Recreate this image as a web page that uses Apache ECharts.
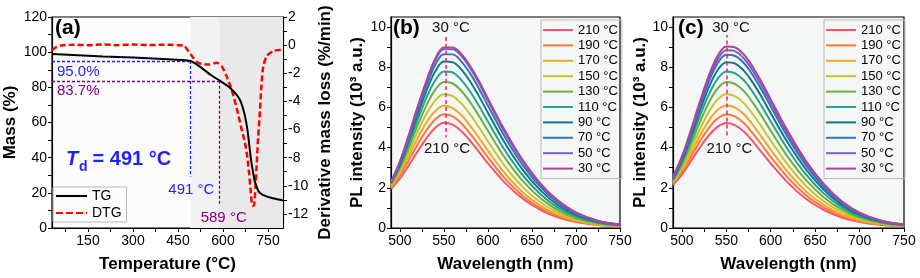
<!DOCTYPE html>
<html><head><meta charset="utf-8">
<script src="https://cdn.jsdelivr.net/npm/echarts@6/dist/echarts.min.js"></script>
<style>html,body{margin:0;padding:0;background:#fff}#c{width:920px;height:278px}</style>
</head><body><div id="c"></div>
<script>
// ---------- Panel (a): TG / DTG ----------
const tgTemp = [30,100,200,300,400,491,523,557,589,623,645,657,670,679,684,690,695,701,706,712,718,729,745,760,780,800];
const tgMass = [99.0,98.4,97.6,96.9,96.1,95.0,91.8,87.3,83.8,79.8,75.8,72.7,66.0,58.5,52.5,43.5,37.0,31.0,26.5,23.5,21.0,19.2,18.0,17.2,16.4,15.6];
const dtgTemp = [30,45,60,100,150,200,250,300,350,400,450,470,484,501,518,551,579,596,612,629,646,662,673,680,687,692,698,703,708,712,717,723,728,734,746,768,790,800];
const dtgRate = [-0.36,-0.12,-0.03,0.03,0.0,0.05,0.0,0.04,0.0,0.03,0.0,-0.05,-0.41,-0.9,-1.26,-1.38,-1.26,-1.5,-2.22,-3.19,-4.52,-5.97,-6.93,-7.8,-9.1,-10.3,-11.4,-11.4,-10.1,-8.6,-6.6,-4.7,-2.9,-1.55,-0.78,-0.41,-0.34,-0.3];
const onsetTemp = [491, 589];
const onsetMass = [95.0, 83.7];
const onsetDropTo = [29.3, 13.5];
const onsetTempLabels = ['491 °C', '589 °C'];
const onsetMassLabels = ['95.0%', '83.7%'];
const tempLabelTicks = [150, 300, 450, 600, 750];
const tempMinorTicks = [75,150,225,300,375,450,525,600,675,750];
const dtgLabelTicks = [-12,-10,-8,-6,-4,-2,0,2];
const dtgTicks = [-12,-11,-10,-9,-8,-7,-6,-5,-4,-3,-2,-1,0,1,2];
const massTicks = [0,10,20,30,40,50,60,70,80,90,100,110,120];
const massLabels = [0,20,40,60,80,100,120];

// ---------- Panels (b), (c): PL spectra ----------
const wavelength = [490,500,510,520,530,540,550,560,570,580,590,600,620,640,660,680,700,725,750];
const tempNames = ['210 °C','190 °C','170 °C','150 °C','130 °C','110 °C','90 °C','70 °C','50 °C','30 °C'];
const b210 = [1.94,2.45,3.10,3.80,4.45,4.98,5.24,5.14,4.82,4.33,3.78,3.22,2.22,1.44,0.89,0.52,0.30,0.15,0.08];
const b190 = [2.00,2.60,3.35,4.14,4.85,5.40,5.66,5.55,5.20,4.68,4.11,3.52,2.43,1.58,0.98,0.58,0.33,0.16,0.09];
const b170 = [2.07,2.74,3.57,4.46,5.24,5.81,6.08,5.97,5.61,5.08,4.48,3.85,2.68,1.76,1.10,0.65,0.37,0.18,0.10];
const b150 = [2.12,2.86,3.78,4.77,5.66,6.33,6.65,6.56,6.19,5.64,5.00,4.32,3.04,2.02,1.27,0.76,0.43,0.21,0.11];
const b130 = [2.18,2.97,3.99,5.08,6.08,6.86,7.26,7.19,6.82,6.25,5.57,4.84,3.45,2.32,1.47,0.88,0.50,0.24,0.12];
const b110 = [2.22,3.06,4.17,5.35,6.46,7.33,7.79,7.74,7.36,6.78,6.07,5.30,3.82,2.60,1.67,1.00,0.57,0.27,0.14];
const b90  = [2.25,3.15,4.33,5.60,6.80,7.77,8.28,8.25,7.88,7.28,6.55,5.74,4.18,2.87,1.86,1.12,0.64,0.30,0.15];
const b70  = [2.27,3.22,4.45,5.80,7.05,8.10,8.65,8.64,8.28,7.68,6.93,6.10,4.48,3.10,2.02,1.23,0.70,0.33,0.16];
const b50  = [2.28,3.26,4.55,5.93,7.22,8.32,8.90,8.90,8.56,7.95,7.20,6.35,4.70,3.27,2.14,1.31,0.75,0.35,0.17];
const b30  = [2.30,3.30,4.60,6.00,7.30,8.40,8.98,8.98,8.65,8.05,7.30,6.45,4.80,3.35,2.20,1.35,0.78,0.36,0.18];
const c210 = [2.15,2.66,3.31,3.99,4.59,5.03,5.22,5.11,4.79,4.30,3.76,3.21,2.22,1.44,0.89,0.52,0.30,0.15,0.08];
const c190 = [2.20,2.79,3.52,4.29,4.96,5.45,5.65,5.54,5.21,4.70,4.13,3.54,2.47,1.62,1.01,0.59,0.34,0.17,0.09];
const c170 = [2.25,2.90,3.72,4.57,5.32,5.87,6.10,5.99,5.65,5.12,4.52,3.89,2.74,1.81,1.14,0.67,0.38,0.19,0.10];
const c150 = [2.30,3.02,3.93,4.89,5.75,6.38,6.65,6.55,6.20,5.65,5.02,4.35,3.10,2.08,1.32,0.79,0.45,0.22,0.11];
const c130 = [2.35,3.15,4.16,5.23,6.21,6.93,7.26,7.16,6.80,6.23,5.56,4.84,3.49,2.37,1.52,0.91,0.52,0.25,0.13];
const c110 = [2.40,3.26,4.36,5.53,6.62,7.41,7.79,7.70,7.34,6.75,6.05,5.30,3.86,2.65,1.71,1.03,0.59,0.28,0.14];
const c90  = [2.45,3.36,4.54,5.80,6.97,7.84,8.25,8.18,7.82,7.22,6.50,5.71,4.19,2.90,1.89,1.14,0.65,0.31,0.15];
const c70  = [2.49,3.45,4.68,6.01,7.25,8.18,8.62,8.56,8.20,7.59,6.85,6.04,4.46,3.10,2.03,1.24,0.71,0.33,0.16];
const c50  = [2.52,3.50,4.77,6.14,7.41,8.38,8.84,8.79,8.43,7.81,7.06,6.23,4.62,3.22,2.11,1.29,0.74,0.35,0.17];
const c30  = [2.55,3.55,4.85,6.25,7.55,8.55,9.03,8.98,8.62,8.00,7.24,6.40,4.76,3.32,2.18,1.33,0.77,0.36,0.18];
const wlLabelTicks = [500,550,600,650,700,750];
const wlTicks = [500,525,550,575,600,625,650,675,700,725,750];
const plLabelTicks = [0,2,4,6,8,10];
const plTicks = [0,1,2,3,4,5,6,7,8,9,10];
// arrow: [wavelength, start value, end value]; labels: [wavelength, value]
const arrowB = [552, 9.5, 4.5];
const arrowC = [550, 4.6, 9.6];
const labelTopB = [558, 9.95], labelBotB = [553.6, 3.93];
const labelTopC = [555.4, 9.95], labelBotC = [553.5, 3.93];

// ---------- styles ----------
const FONT = "'Liberation Sans', Arial, Helvetica, sans-serif";
const specColors = ['#f2566f','#f47b3b','#f6a623','#c7c52c','#6cb13f','#28a195','#0d7a8b','#3a72b8','#7a5cc3','#a8479f'];
const bCurves = [b210,b190,b170,b150,b130,b110,b90,b70,b50,b30];
const cCurves = [c210,c190,c170,c150,c130,c110,c90,c70,c50,c30];
const ICON_LINE = 'path://M0,0H30V2H0Z';
const ICON_DASH = 'path://M0,0H7V2H0Z M10,0H17V2H10Z M20,0H27V2H20Z M30,0H31V2H30Z';

const chart = echarts.init(document.getElementById('c'), null, {renderer:'canvas'});

const axisLineStyle = {show:true, lineStyle:{color:'#000', width:1.2}};
const labelStyle = {fontFamily:FONT, fontSize:14, color:'#000'};
const nameStyle = {fontFamily:FONT, fontSize:17, fontWeight:'bold', color:'#000'};

function xAx(gi, min, max, labels, ticks, name, gap){
  return {type:'value', gridIndex:gi, min:min, max:max, name:name, nameLocation:'middle', nameGap:gap,
    nameTextStyle:nameStyle, axisLine:axisLineStyle,
    axisTick:{show:true, inside:false, length:4, customValues:ticks, lineStyle:{color:'#000', width:1}},
    axisLabel:Object.assign({customValues:labels, margin:6}, labelStyle),
    splitLine:{show:false}};
}
function yAx(gi, min, max, labels, ticks, name, gap, pos){
  return {type:'value', gridIndex:gi, position:pos||'left', min:min, max:max, name:name, nameLocation:'middle', nameGap:gap,
    nameTextStyle:nameStyle, axisLine:axisLineStyle,
    axisTick:{show:true, inside:false, length:4, customValues:ticks, lineStyle:{color:'#000', width:1}},
    axisLabel:Object.assign({customValues:labels, margin:5}, labelStyle),
    splitLine:{show:false}};
}

const series = [];
series.push({
  name:'TG', type:'line', xAxisIndex:0, yAxisIndex:0, symbol:'none', smooth:0.2,
  data: tgTemp.map((t,i)=>[t, tgMass[i]]),
  lineStyle:{color:'#000', width:2}, itemStyle:{color:'#000'}, z:5,
  markArea:{silent:true, data:[
    [{xAxis:onsetTemp[0], itemStyle:{color:'#f2f2f2'}},{xAxis:800}],
    [{xAxis:onsetTemp[1], itemStyle:{color:'#e9e9e9'}},{xAxis:800}]
  ].slice(0,0).concat([
    [{xAxis:onsetTemp[0], itemStyle:{color:'#f2f2f2'}},{xAxis:onsetTemp[1]}],
    [{xAxis:onsetTemp[1], itemStyle:{color:'#e9e9e9'}},{xAxis:800}]
  ])},
  markLine:{silent:true, symbol:['none','none'], label:{show:false}, animation:false,
    data: onsetTemp.flatMap((t,i)=>{
      const ls = {color: i===0 ? '#1f1fff' : '#800080', type:[3,2], width:1.3};
      return [
        [{coord:[30, onsetMass[i]], lineStyle:ls},{coord:[t, onsetMass[i]], lineStyle:ls}],
        [{coord:[t, onsetMass[i]], lineStyle:ls},{coord:[t, onsetDropTo[i]], lineStyle:ls}]
      ];
    })
  },
  markPoint:{silent:true, symbol:'rect', symbolSize:0, animation:false,
    data: onsetTemp.flatMap((t,i)=>{
      const col = i===0 ? '#1f1fff' : '#800080';
      return [
        {coord:[30, onsetMass[i]], label:{show:true, formatter:onsetMassLabels[i], position:'right', distance:5, offset:[0,10.5], color:col, fontFamily:FONT, fontSize:15}},
        {coord:[t, onsetDropTo[i]], label:{show:true, formatter:onsetTempLabels[i], position:'bottom', distance:6, offset:[i===0?1:4,0], color:col, fontFamily:FONT, fontSize:15}}
      ];
    })
  }
});
series.push({
  name:'DTG', type:'line', xAxisIndex:0, yAxisIndex:1, symbol:'none', smooth:0.25,
  data: dtgTemp.map((t,i)=>[t, dtgRate[i]]),
  lineStyle:{color:'#ff0000', width:2.5, type:[6,3]}, itemStyle:{color:'#ff0000'}, z:4
});

function addSpectra(curves, xi, yi, arrow, lblTop, lblBot){
  curves.forEach((arr, i)=>{
    const s = {
      name: tempNames[i], type:'line', xAxisIndex:xi, yAxisIndex:yi, symbol:'none', smooth:0.35,
      data: wavelength.map((w,k)=>[w, arr[k]]),
      lineStyle:{color:specColors[i], width:2}, itemStyle:{color:specColors[i]}
    };
    if (i === curves.length-1){
      s.markLine = {silent:true, symbol:['none','triangle'], symbolSize:[0,9], label:{show:false}, animation:false,
        lineStyle:{color:'#f0206e', type:[4,3], width:1.5},
        data:[[{coord:[arrow[0], arrow[1]]},{coord:[arrow[0], arrow[2]]}]]};
      s.markPoint = {silent:true, symbol:'rect', symbolSize:0, animation:false,
        data:[
          {coord:lblTop, label:{show:true, formatter:'30 °C', position:'inside', color:'#111', fontFamily:FONT, fontSize:15}},
          {coord:lblBot, label:{show:true, formatter:'210 °C', position:'inside', color:'#111', fontFamily:FONT, fontSize:15}}
        ]};
    }
    series.push(s);
  });
}
addSpectra(bCurves, 1, 2, arrowB, labelTopB, labelBotB);
addSpectra(cCurves, 2, 3, arrowC, labelTopC, labelBotC);

const legendCommon = {orient:'vertical', itemWidth:30, itemHeight:2.2, itemGap:1.4, icon:ICON_LINE,
  borderColor:'#b8b8b8', borderWidth:1,
  textStyle:{fontFamily:FONT, fontSize:13, color:'#000', lineHeight:14}, selectedMode:false};

const option = {
  animation:false,
  backgroundColor:'#fff',
  grid:[
    {left:52, top:17, width:231, height:212, show:true, borderColor:'#000', borderWidth:1.2, backgroundColor:'#fcfcfc'},
    {left:391, top:17, width:229, height:211, show:true, borderColor:'#000', borderWidth:1.2, backgroundColor:'#f5f6f6'},
    {left:673, top:17, width:231, height:211, show:true, borderColor:'#000', borderWidth:1.2, backgroundColor:'#f5f6f6'}
  ],
  xAxis:[
    xAx(0, 30, 800, tempLabelTicks, tempMinorTicks, 'Temperature (°C)', 28),
    xAx(1, 490, 750, wlLabelTicks, wlTicks, 'Wavelength (nm)', 28),
    xAx(2, 490, 750, wlLabelTicks, wlTicks, 'Wavelength (nm)', 28)
  ],
  yAxis:[
    yAx(0, 0, 120, massLabels, massTicks, 'Mass (%)', 33),
    yAx(0, -13, 2, dtgLabelTicks, dtgTicks, 'Derivative mass loss (%/min)', 34, 'right'),
    yAx(1, 0, 10.5, plLabelTicks, plTicks, 'PL intensity (10³ a.u.)', 25),
    yAx(2, 0, 10.5, plLabelTicks, plTicks, 'PL intensity (10³ a.u.)', 23)
  ],
  legend:[
    Object.assign({}, legendCommon, {
      data:[{name:'TG', icon:ICON_LINE}, {name:'DTG', icon:ICON_DASH}],
      left:53, top:187, itemWidth:31, itemHeight:2.5, itemGap:3, padding:[2,5,2,3],
      textStyle:{fontFamily:FONT, fontSize:14, color:'#000', lineHeight:14}}),
    Object.assign({}, legendCommon, {data:tempNames, left:541, top:20, padding:[3,4,3,2]}),
    Object.assign({}, legendCommon, {data:tempNames, left:824, top:20, padding:[3,4,3,2]})
  ],
  graphic:[
    {type:'text', left:55, top:18, style:{text:'(a)', font:"bold 21px "+FONT, fill:'#000'}},
    {type:'text', left:393, top:18, style:{text:'(b)', font:"bold 21px "+FONT, fill:'#000'}},
    {type:'text', left:678, top:18, style:{text:'(c)', font:"bold 21px "+FONT, fill:'#000'}},
    {type:'text', left:66, top:149, z:100, style:{text:'T', font:"italic bold 20px "+FONT, fill:'#1f1fff'}},
    {type:'text', left:79, top:160, z:100, style:{text:'d', font:"bold 14px "+FONT, fill:'#1f1fff'}},
    {type:'text', left:87, top:149, z:100, style:{text:' = 491 °C', font:"bold 20px "+FONT, fill:'#1f1fff'}}
  ],
  series: series
};
chart.setOption(option);
</script></body></html>
